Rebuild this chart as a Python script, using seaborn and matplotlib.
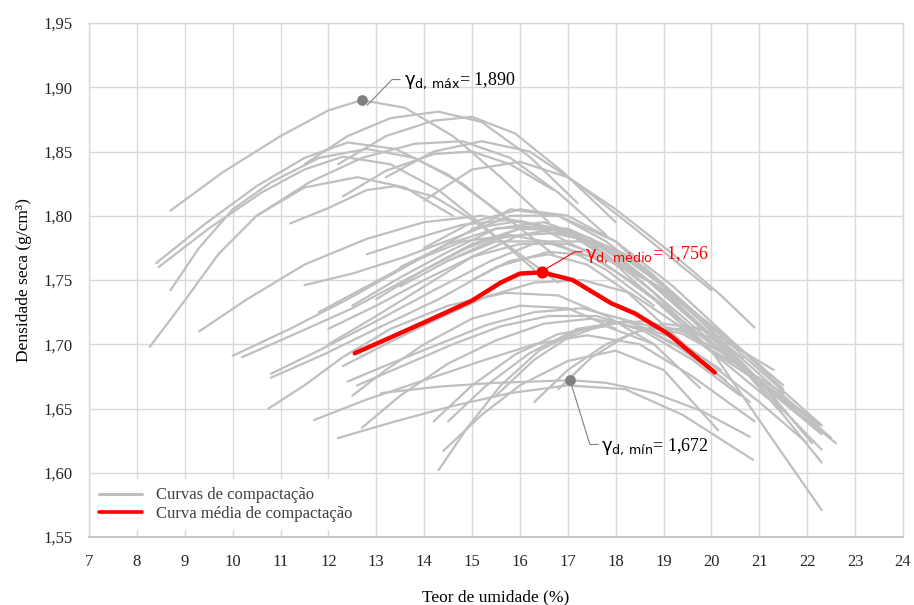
import numpy as np
import pandas as pd
import matplotlib
matplotlib.use("Agg")
import matplotlib.pyplot as plt
from matplotlib.lines import Line2D
import seaborn as sns

# ── Dados ──────────────────────────────────────────────────────
# cada curva de compactação: teor de umidade (%) e densidade seca (g/cm³)
umidade = [
    [8.7, 9.8, 11.0, 12.0, 12.7, 13.6, 14.6, 15.6, 16.6],
    [8.4, 9.4, 10.5, 11.5, 12.4, 13.4, 14.5, 15.6, 16.7],
    [8.45, 9.5, 10.6, 11.5, 12.3, 13.3, 14.3, 15.3, 16.3],
    [8.7, 9.3, 10.0, 10.8, 11.8, 12.8, 13.8, 14.8, 15.8],
    [11.5, 12.4, 13.3, 14.3, 15.2, 16.2, 17.2],
    [12.2, 13.2, 14.2, 15.0, 15.9, 16.9, 18.0],
    [10.5, 11.6, 12.7, 13.8, 14.8, 15.8, 16.8, 17.8],
    [11.2, 12.0, 12.8, 13.4, 14.2, 15.0, 16.0, 16.8],
    [12.3, 13.2, 14.2, 15.0, 15.8, 16.7],
    [13.2, 14.2, 15.2, 16.2, 17.2, 18.4, 19.4, 20.0],
    [14.0, 15.0, 16.0, 17.0, 18.0, 19.2, 20.2, 20.9],
    [9.3, 10.3, 11.5, 12.8, 14.0, 15.2, 16.3, 17.5, 18.8, 20.0],
    [10.0, 11.2, 12.4, 13.6, 14.8, 15.8, 16.8, 18.0, 19.2, 20.5, 21.5],
    [10.2, 11.3, 12.5, 13.7, 14.9, 16.0, 17.0, 18.2, 19.5, 21.0, 22.3],
    [11.5, 12.5, 13.6, 14.8, 15.8, 16.8, 17.8, 19.0, 20.3, 21.5, 22.5],
    [12.5, 13.5, 14.5, 15.5, 16.5, 17.5, 18.6, 19.8, 21.0, 22.3],
    [10.8, 11.9, 13.0, 14.2, 15.4, 16.4, 17.4, 18.6, 19.8, 21.0, 22.3],
    [10.8, 11.9, 13.0, 14.3, 15.5, 16.6, 17.7, 18.9, 20.2, 21.5, 22.3],
    [12.8, 13.8, 14.8, 15.8, 16.8, 17.8, 18.8, 20.0, 21.2, 22.3],
    [13.5, 14.5, 15.5, 16.5, 17.5, 18.5, 19.5, 20.6, 21.8, 22.6],
    [12.0, 13.0, 14.0, 15.0, 16.0, 17.0, 18.0, 19.0, 20.0, 21.0, 22.1],
    [13.0, 14.0, 15.0, 16.0, 17.0, 18.0, 19.0, 20.0, 21.0, 22.3],
    [14.0, 15.0, 16.0, 17.0, 18.0, 19.0, 19.8],
    [13.5, 14.5, 15.5, 16.5, 17.5, 18.5, 19.5, 20.66],
    [15.0, 16.0, 17.0, 18.0, 19.0, 20.0, 21.0, 22.27],
    [10.75, 11.5, 12.3, 13.3, 14.5, 15.7, 16.8, 17.8, 18.8],
    [11.7, 12.8, 14.0, 15.2, 16.3, 17.4, 18.5, 19.6, 20.9],
    [12.2, 13.4, 14.6, 15.8, 17.0, 18.2, 19.4, 20.87],
    [12.7, 13.5, 14.5, 15.5, 16.5, 17.5, 18.6, 19.8, 21.0, 22.0],
    [14.3, 14.9, 15.6, 16.4, 17.3, 18.3, 19.4, 20.5, 21.5],
    [14.4, 15.2, 16.0, 17.0, 18.0, 19.0, 20.14],
    [14.2, 15.0, 15.9, 16.8, 17.8, 18.8, 19.76],
    [14.5, 15.3, 16.2, 17.2, 18.2, 19.2, 20.2],
    [13.1, 14.3, 15.5, 16.3, 17.05, 17.8, 18.8, 19.8, 20.8],
    [12.4, 13.3, 14.3, 15.3, 16.3, 17.3, 18.3, 19.3, 20.3],
    [12.6, 13.6, 14.6, 15.6, 16.6, 17.6, 18.6, 19.6, 20.6],
    [12.3, 13.3, 14.3, 15.3, 16.3, 17.3, 18.3, 19.3, 20.3, 21.5],
    [15.5, 16.3, 17.0, 17.8, 18.6, 19.4, 20.4],
    [16.3, 17.0, 17.8, 18.6, 19.4, 20.4, 21.3],
    [16.8, 17.5, 18.3, 19.0, 19.8, 20.5],
    [12.0, 13.0, 14.0, 15.0, 16.0, 17.0, 18.0, 19.2, 20.5, 21.5],
    [11.8, 12.8, 13.8, 14.8, 15.8, 16.8, 17.8, 18.8],
    [14.5, 15.5, 16.5, 17.5, 18.5, 19.5, 20.5, 21.5, 22.3],
    [15.0, 15.8, 16.6, 17.4, 18.2, 19.0, 19.8, 20.8],
    [12.5, 13.2, 14.0, 15.0, 16.0, 17.0, 18.0],
    [8.27, 9.0, 9.7, 10.5, 11.5, 12.6, 13.6, 14.6],
]
densidade = [
    [1.804, 1.834, 1.862, 1.882, 1.890, 1.884, 1.862, 1.830, 1.795],
    [1.763, 1.793, 1.823, 1.845, 1.857, 1.852, 1.832, 1.802, 1.770],
    [1.760, 1.790, 1.818, 1.836, 1.846, 1.840, 1.820, 1.790, 1.758],
    [1.742, 1.775, 1.805, 1.826, 1.845, 1.852, 1.845, 1.825, 1.795],
    [1.840, 1.862, 1.876, 1.881, 1.873, 1.846, 1.810],
    [1.840, 1.862, 1.874, 1.877, 1.864, 1.834, 1.795],
    [1.800, 1.826, 1.845, 1.856, 1.858, 1.845, 1.818, 1.785],
    [1.794, 1.806, 1.820, 1.823, 1.815, 1.797, 1.770, 1.748],
    [1.815, 1.835, 1.848, 1.850, 1.840, 1.820],
    [1.830, 1.850, 1.858, 1.850, 1.825, 1.790, 1.760, 1.742],
    [1.812, 1.836, 1.842, 1.830, 1.805, 1.770, 1.738, 1.713],
    [1.710, 1.735, 1.762, 1.782, 1.795, 1.800, 1.793, 1.770, 1.735, 1.700],
    [1.691, 1.712, 1.735, 1.760, 1.785, 1.800, 1.800, 1.780, 1.745, 1.700, 1.665],
    [1.690, 1.708, 1.728, 1.752, 1.775, 1.790, 1.790, 1.770, 1.730, 1.680, 1.637],
    [1.746, 1.755, 1.768, 1.785, 1.805, 1.800, 1.780, 1.745, 1.700, 1.660, 1.627],
    [1.730, 1.752, 1.772, 1.790, 1.795, 1.782, 1.752, 1.712, 1.672, 1.637],
    [1.677, 1.697, 1.718, 1.742, 1.765, 1.780, 1.780, 1.760, 1.720, 1.668, 1.618],
    [1.674, 1.692, 1.712, 1.735, 1.760, 1.772, 1.768, 1.745, 1.700, 1.645, 1.608],
    [1.770, 1.782, 1.793, 1.797, 1.790, 1.770, 1.740, 1.695, 1.630, 1.571],
    [1.760, 1.778, 1.790, 1.792, 1.778, 1.750, 1.718, 1.683, 1.647, 1.623],
    [1.700, 1.722, 1.745, 1.768, 1.785, 1.787, 1.772, 1.745, 1.710, 1.672, 1.623],
    [1.735, 1.758, 1.778, 1.790, 1.788, 1.770, 1.740, 1.705, 1.670, 1.630],
    [1.775, 1.795, 1.805, 1.800, 1.780, 1.745, 1.711],
    [1.745, 1.765, 1.782, 1.788, 1.780, 1.755, 1.722, 1.689],
    [1.790, 1.796, 1.787, 1.762, 1.728, 1.695, 1.670, 1.637],
    [1.650, 1.668, 1.690, 1.712, 1.730, 1.740, 1.738, 1.722, 1.700],
    [1.641, 1.657, 1.672, 1.687, 1.700, 1.707, 1.700, 1.675, 1.640],
    [1.627, 1.640, 1.652, 1.662, 1.668, 1.665, 1.645, 1.610],
    [1.635, 1.660, 1.685, 1.703, 1.716, 1.720, 1.712, 1.690, 1.655, 1.623],
    [1.602, 1.635, 1.668, 1.695, 1.712, 1.718, 1.708, 1.685, 1.662],
    [1.617, 1.645, 1.668, 1.687, 1.695, 1.680, 1.633],
    [1.640, 1.668, 1.692, 1.708, 1.714, 1.700, 1.666],
    [1.640, 1.668, 1.693, 1.712, 1.718, 1.705, 1.680],
    [1.662, 1.667, 1.670, 1.671, 1.672, 1.670, 1.662, 1.648, 1.628],
    [1.671, 1.685, 1.700, 1.715, 1.725, 1.728, 1.718, 1.698, 1.672],
    [1.668, 1.684, 1.700, 1.714, 1.722, 1.722, 1.710, 1.688, 1.660],
    [1.683, 1.702, 1.720, 1.737, 1.748, 1.750, 1.740, 1.715, 1.685, 1.648],
    [1.660, 1.688, 1.705, 1.716, 1.718, 1.710, 1.690],
    [1.655, 1.680, 1.700, 1.712, 1.712, 1.700, 1.680],
    [1.665, 1.690, 1.708, 1.716, 1.712, 1.700],
    [1.712, 1.730, 1.750, 1.768, 1.778, 1.778, 1.765, 1.738, 1.700, 1.668],
    [1.725, 1.745, 1.765, 1.780, 1.785, 1.778, 1.758, 1.730],
    [1.765, 1.780, 1.780, 1.768, 1.745, 1.715, 1.685, 1.655, 1.632],
    [1.750, 1.765, 1.770, 1.762, 1.742, 1.715, 1.687, 1.655],
    [1.660, 1.680, 1.700, 1.720, 1.730, 1.728, 1.712],
    [1.698, 1.734, 1.770, 1.800, 1.822, 1.830, 1.822, 1.800],
]

media_umidade = [12.55, 13.1, 14.0, 15.0, 15.6, 16.0, 16.46, 17.1, 17.9, 18.4, 19.1, 20.07]
media_densidade = [1.693, 1.702, 1.717, 1.734, 1.748, 1.755, 1.756, 1.750, 1.732, 1.724, 1.708, 1.678]

ponto_max = (12.7, 1.890)
ponto_medio = (16.46, 1.756)
ponto_min = (17.05, 1.672)

x_ticks = list(range(7, 25))
y_ticks = [1.55, 1.60, 1.65, 1.70, 1.75, 1.80, 1.85, 1.90, 1.95]

CINZA = "#bfbfbf"
GRID = "#d9d9d9"
VERMELHO = "#ff0000"

# ── Tabela longa para o seaborn ─────────────────────────────────
linhas = []
for i, (xs, ys) in enumerate(zip(umidade, densidade)):
    for ordem, (x, y) in enumerate(zip(xs, ys)):
        linhas.append({"curva": i, "ordem": ordem, "umidade": x, "densidade": y})
df = pd.DataFrame(linhas)
df_media = pd.DataFrame({"umidade": media_umidade, "densidade": media_densidade})

sns.set_theme(style="white")
plt.rcParams["font.family"] = ["Liberation Serif", "DejaVu Serif"]
plt.rcParams["mathtext.fontset"] = "dejavusans"

fig = plt.figure(figsize=(9.14, 6.05), dpi=100)
ax = fig.add_axes([89 / 914, 1 - 537 / 605, (903 - 89) / 914, (537 - 23) / 605])

sns.lineplot(
    data=df, x="umidade", y="densidade", units="curva", estimator=None,
    sort=False, color=CINZA, lw=1.6, ax=ax, zorder=2, legend=False,
)
sns.lineplot(
    data=df_media, x="umidade", y="densidade", estimator=None,
    sort=False, color=VERMELHO, lw=3.2, ax=ax, zorder=4, legend=False,
)

ax.scatter(*ponto_max, s=45, color="#808080", zorder=5)
ax.scatter(*ponto_min, s=45, color="#808080", zorder=5)
ax.scatter(*ponto_medio, s=60, color=VERMELHO, zorder=6)

# ── Anotações ───────────────────────────────────────────────────
ax.plot([12.81, 13.33, 13.5], [1.886, 1.906, 1.906], color="#808080", lw=0.8, zorder=5)
ax.text(13.58, 1.905, r"$\mathrm{γ}_{\mathrm{d,\,máx}}$= 1,890", fontsize=13,
        va="center", ha="left", color="#000000", zorder=7)

ax.plot([16.56, 17.15, 17.3], [1.759, 1.772, 1.772], color=VERMELHO, lw=0.8, zorder=5)
ax.text(17.36, 1.770, r"$\mathrm{γ}_{\mathrm{d,\,médio}}$= 1,756", fontsize=13,
        va="center", ha="left", color=VERMELHO, zorder=7)

ax.plot([17.08, 17.46, 17.63], [1.668, 1.622, 1.622], color="#808080", lw=0.8, zorder=5)
ax.text(17.7, 1.620, r"$\mathrm{γ}_{\mathrm{d,\,mín}}$= 1,672", fontsize=13,
        va="center", ha="left", color="#000000", zorder=7)

# ── Eixos ───────────────────────────────────────────────────────
ax.set_xlim(7, 24)
ax.set_ylim(1.55, 1.95)
ax.set_xticks(x_ticks)
ax.set_yticks(y_ticks)
ax.set_yticklabels([f"{v:.2f}".replace(".", ",") for v in y_ticks])
ax.grid(True, color=GRID, lw=1.0, zorder=0)
ax.set_axisbelow(True)
for side in ["top", "right", "left"]:
    ax.spines[side].set_color(GRID)
    ax.spines[side].set_linewidth(1.0)
ax.spines["bottom"].set_color("#bfbfbf")
ax.spines["bottom"].set_linewidth(1.2)
ax.tick_params(axis="both", length=0, labelsize=12, colors="#262626", pad=12)
ax.set_xlabel("Teor de umidade (%)", fontsize=12.5, labelpad=14, color="#000000")
ax.set_ylabel("Densidade seca (g/cm³)", fontsize=12.5, labelpad=8, color="#000000")

handles = [
    Line2D([0], [0], color=CINZA, lw=2.2),
    Line2D([0], [0], color=VERMELHO, lw=2.6),
]
leg = ax.legend(
    handles, ["Curvas de compactação", "Curva média de compactação"],
    loc="lower left", bbox_to_anchor=(0.0, 0.01), frameon=True, fancybox=False,
    facecolor="white", edgecolor="none", framealpha=1.0, fontsize=12,
    handlelength=2.6, labelspacing=0.15, borderpad=0.5, borderaxespad=0.1,
)
for t in leg.get_texts():
    t.set_color("#404040")
leg.set_zorder(8)

fig.savefig("out.png", dpi=100)
